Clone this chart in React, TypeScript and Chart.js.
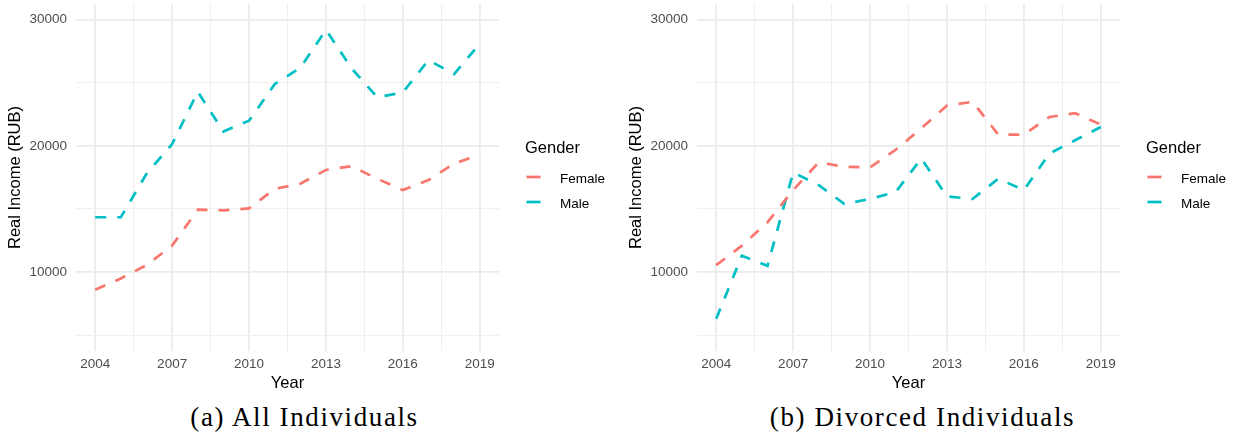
import React, { useEffect, useRef } from "react";
import Chart from "chart.js/auto";

const years = [2004, 2005, 2006, 2007, 2008, 2009, 2010, 2011, 2012, 2013, 2014, 2015, 2016, 2017, 2018, 2019];
const allFemale = [8600, 9500, 10550, 12100, 14950, 14900, 15050, 16600, 17000, 18100, 18400, 17400, 16500, 17300, 18600, 19300];
const allMale = [14350, 14350, 17800, 20150, 24300, 21150, 22000, 24900, 26200, 29200, 26150, 23850, 24250, 26800, 25700, 28100];
const divFemale = [10550, 12100, 13950, 16500, 18700, 18350, 18300, 19700, 21400, 23200, 23500, 20900, 20900, 22300, 22600, 21700];
const divMale = [6300, 11300, 10500, 17900, 16900, 15400, 15800, 16350, 19000, 16000, 15800, 17400, 16500, 19400, 20450, 21500];

const seriesNames = ["Female", "Male"];
const seriesColors = ["#F8766D", "#00BFC4"];
const xMajorTicks = [2004, 2007, 2010, 2013, 2016, 2019];
const xGridTicks = [2004, 2005.5, 2007, 2008.5, 2010, 2011.5, 2013, 2014.5, 2016, 2017.5, 2019];
const yMajorTicks = [10000, 20000, 30000];
const yGridTicks = [5000, 10000, 15000, 20000, 25000, 30000];
const legendTitle = "Gender";
const xTitle = "Year";
const yTitle = "Real Income (RUB)";
const captions = ["(a) All Individuals", "(b) Divorced Individuals"];

const SANS = "'Liberation Sans', Arial, sans-serif";

const legendPlugin = {
  id: "ggLegend",
  afterDraw(chart: any) {
    const { ctx, chartArea } = chart;
    const r = chartArea.right;
    ctx.save();
    ctx.fillStyle = "#000";
    ctx.textAlign = "left";
    ctx.textBaseline = "alphabetic";
    ctx.font = `16.5px ${SANS}`;
    ctx.fillText(legendTitle, r + 26, 153);
    const keyY = [177, 202];
    const txtY = [182.5, 208];
    chart.data.datasets.forEach((ds: any, i: number) => {
      ctx.strokeStyle = ds.borderColor;
      ctx.lineWidth = 2.7;
      ctx.setLineDash([]);
      ctx.beginPath();
      ctx.moveTo(r + 27.5, keyY[i]);
      ctx.lineTo(r + 41.5, keyY[i]);
      ctx.stroke();
      ctx.font = `13.5px ${SANS}`;
      ctx.fillStyle = "#000";
      ctx.fillText(ds.label, r + 61, txtY[i]);
    });
    ctx.restore();
  },
};

function Panel({ female, male, left }: { female: number[]; male: number[]; left: number }) {
  const ref = useRef<HTMLCanvasElement | null>(null);
  useEffect(() => {
    if (!ref.current) return;
    const series = [female, male];
    const chart = new Chart(ref.current, {
      type: "line",
      data: {
        datasets: series.map((vals, i) => ({
          label: seriesNames[i],
          data: years.map((x, j) => ({ x, y: vals[j] })),
          borderColor: seriesColors[i],
          backgroundColor: seriesColors[i],
          borderWidth: 2.7,
          borderDash: [11, 11],
          borderCapStyle: "butt",
          pointRadius: 0,
          tension: 0,
          fill: false,
        })),
      },
      options: {
        responsive: false,
        animation: false,
        events: [],
        layout: { padding: { top: 4, right: 118, left: 0, bottom: 0 } },
        plugins: { legend: { display: false }, tooltip: { enabled: false } },
        scales: {
          x: {
            type: "linear",
            min: 2003.25,
            max: 2019.75,
            afterBuildTicks: (axis: any) => {
              axis.ticks = xGridTicks.map((v) => ({ value: v }));
            },
            afterFit: (axis: any) => {
              axis.height = 49;
              axis.paddingLeft = 0;
              axis.paddingRight = 0;
              axis.paddingTop = 0;
              axis.paddingBottom = 0;
            },
            ticks: {
              autoSkip: false,
              maxRotation: 0,
              padding: 5,
              color: "#4D4D4D",
              font: { family: SANS, size: 13.5 },
              callback: (v: any) => (xMajorTicks.includes(Number(v)) ? String(v) : ""),
            },
            grid: {
              drawTicks: false,
              color: (c: any) => (c.tick && xMajorTicks.includes(c.tick.value) ? "#EBEBEB" : "#EFEFEF"),
              lineWidth: (c: any) => (c.tick && xMajorTicks.includes(c.tick.value) ? 1.8 : 1.1),
            },
            border: { display: false },
            title: {
              display: true,
              text: xTitle,
              color: "#000",
              font: { family: SANS, size: 16.5 },
              padding: { top: 0, bottom: 7 },
            },
          },
          y: {
            type: "linear",
            min: 3750,
            max: 31250,
            afterBuildTicks: (axis: any) => {
              axis.ticks = yGridTicks.map((v) => ({ value: v }));
            },
            afterFit: (axis: any) => {
              axis.width = 76;
              axis.paddingTop = 0;
              axis.paddingBottom = 0;
              axis.paddingLeft = 0;
              axis.paddingRight = 0;
            },
            ticks: {
              autoSkip: false,
              padding: 9,
              color: "#4D4D4D",
              font: { family: SANS, size: 13.5 },
              callback: (v: any) => (yMajorTicks.includes(Number(v)) ? String(v) : ""),
            },
            grid: {
              drawTicks: false,
              color: (c: any) => (c.tick && yMajorTicks.includes(c.tick.value) ? "#EBEBEB" : "#EFEFEF"),
              lineWidth: (c: any) => (c.tick && yMajorTicks.includes(c.tick.value) ? 1.8 : 1.1),
            },
            border: { display: false },
            title: {
              display: true,
              text: yTitle,
              color: "#000",
              font: { family: SANS, size: 16.5 },
              padding: { top: 6, bottom: 0 },
            },
          },
        },
      },
      plugins: [legendPlugin],
    } as any);
    return () => chart.destroy();
  }, [female, male]);
  return (
    <canvas
      ref={ref}
      width={617}
      height={400}
      style={{ position: "absolute", left, top: 0, width: 617, height: 400 }}
    />
  );
}

function Caption({ text, center }: { text: string; center: number }) {
  return (
    <div
      style={{
        position: "absolute",
        left: center - 250,
        width: 500,
        top: 404,
        textAlign: "center",
        fontFamily: "'Liberation Serif', 'Times New Roman', serif",
        fontSize: 27,
        lineHeight: "27px",
        letterSpacing: 1.6,
        color: "#000",
        whiteSpace: "nowrap",
      }}
    >
      {text}
    </div>
  );
}

export default function App() {
  return (
    <div style={{ position: "absolute", left: 0, top: 0, width: 1237, height: 441, background: "#fff", overflow: "hidden" }}>
      <Panel female={allFemale} male={allMale} left={0} />
      <Panel female={divFemale} male={divMale} left={621} />
      <Caption text={captions[0]} center={304.5} />
      <Caption text={captions[1]} center={922.5} />
    </div>
  );
}
